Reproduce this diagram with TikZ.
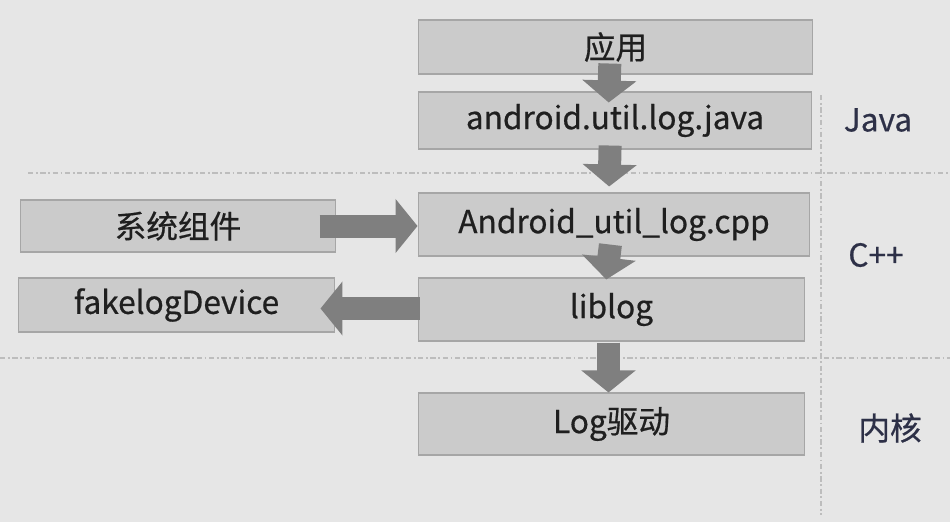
\documentclass[tikz,border=0pt]{standalone}
\usepackage{fontspec}
\setmainfont[FakeBold=0.6]{Noto Sans CJK SC}
\usepackage{tikz}
\usetikzlibrary{positioning,arrows.meta}
\usepackage{xcolor}

\definecolor{bgcol}{HTML}{E6E6E6}
\definecolor{boxfill}{HTML}{CBCBCB}
\definecolor{boxline}{HTML}{A6A6A6}
\definecolor{arrowcol}{HTML}{7F7F7F}
\definecolor{layercol}{HTML}{2D3047}
\definecolor{sepcol}{HTML}{BDBDBD}

\tikzset{
  layerbox/.style={draw=boxline, fill=boxfill, line width=0.6pt, rectangle,
    inner sep=0pt, text=black!88, font=\fontsize{18}{20}\selectfont},
  fatarrow/.style={draw=arrowcol, line width=0.46cm,
    -{Triangle[length=0.44cm, width=1.06cm]}},
  layerlabel/.style={text=layercol, font=\fontsize{18}{20}\selectfont},
  separator/.style={draw=sepcol, line width=0.6pt,
    dash pattern=on 3pt off 1.5pt on 1pt off 1.5pt}
}

\begin{document}
\begin{tikzpicture}[x=0.02cm, y=-0.02cm]
                % background and size
                \fill[bgcol] (0,0) rectangle (950,522);
                \useasboundingbox (0,0) rectangle (950,522);

                % layer separators
                \draw[separator] (28,173) -- (950,173);
                \draw[separator] (0,358) -- (950,358);
                \draw[separator] (821,95) -- (821,515);

                % boxes of the log system
                \node[layerbox, minimum width=7.9cm, minimum height=1.08cm] (app) at (615.5,47) {应用};
                \node[layerbox, minimum width=7.88cm, minimum height=1.14cm] (java) at (615,120.5) {android.util.log.java};
                \node[layerbox, minimum width=7.84cm, minimum height=1.26cm] (cpp) at (614,224.5) {Android\_util\_log.cpp};
                \node[layerbox, minimum width=6.32cm, minimum height=1.04cm] (sys) at (178,226) {系统组件};
                \node[layerbox, minimum width=6.34cm, minimum height=1.08cm] (fake) at (176.5,305) {fakelogDevice};
                \node[layerbox, minimum width=7.74cm, minimum height=1.26cm] (liblog) at (611.5,309.5) {liblog};
                \node[layerbox, minimum width=7.74cm, minimum height=1.24cm] (logdrv) at (611.5,424) {Log驱动};

                % layer names
                \node[layerlabel] (javalabel) at (878,120) {Java};
                \node[layerlabel] (cpplabel) at (876,255) {C++};
                \node[layerlabel] (kernellabel) at (890,428) {内核};

                % flow between the boxes
                \draw[fatarrow, shorten <=-0.22cm, shorten >=-0.22cm] ([xshift=-0.12cm]app.south) -- ([xshift=-0.12cm]java.north);
                \draw[fatarrow, shorten <=-0.08cm, shorten >=0.12cm] ([xshift=-0.1cm]java.south) -- ([xshift=-0.1cm]cpp.north);
                \draw[fatarrow, shorten <=-0.24cm, shorten >=-0.04cm] ([xshift=-0.1cm]cpp.south) -- ([xshift=-0.1cm]liblog.north);
                \draw[fatarrow, shorten <=0.02cm] ([xshift=-0.06cm]liblog.south) -- ([xshift=-0.06cm]logdrv.north);
                \draw[fatarrow, shorten <=-0.34cm] (sys.east) -- (sys.east -| cpp.west);
                \draw[fatarrow, shorten <=-0.04cm, shorten >=-0.3cm] ([yshift=0.02cm]liblog.west) -- ([yshift=0.02cm]liblog.west -| fake.east);
            \end{tikzpicture}
\end{document}
